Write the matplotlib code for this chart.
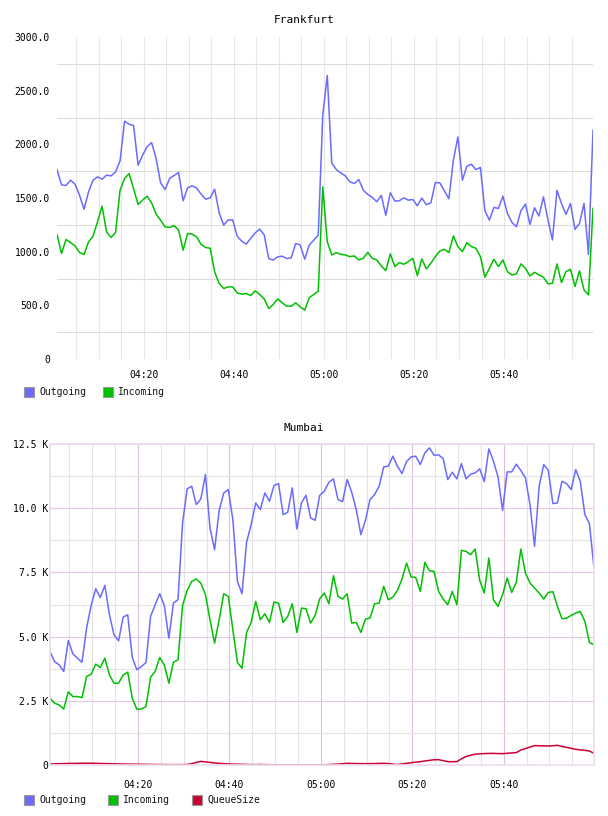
"""Frankfurt / Mumbai traffic charts."""
import matplotlib
matplotlib.use("Agg")
import matplotlib.pyplot as plt
import matplotlib.dates as mdates
import pandas as pd
from matplotlib.patches import Rectangle
from matplotlib.ticker import FuncFormatter, MultipleLocator

W, H = 608, 816

# sample times (one per minute)
times = pd.date_range("2024-01-01 04:00:45", periods=120, freq="60s")

fra_outgoing = [
    1765, 1623, 1616, 1666, 1629, 1526, 1396, 1557, 1666, 1697,
    1675, 1713, 1706, 1744, 1846, 2216, 2188, 2175, 1806, 1899,
    1977, 2017, 1868, 1641, 1579, 1682, 1710, 1738, 1474, 1595,
    1613, 1592, 1536, 1489, 1501, 1582, 1362, 1247, 1296, 1296,
    1144, 1098, 1070, 1123, 1175, 1210, 1157, 936, 921, 952,
    958, 936, 942, 1076, 1061, 930, 1061, 1107, 1154,
    2270, 2642, 1827, 1765, 1734, 1706, 1651, 1635, 1672, 1573,
    1533, 1505, 1465, 1524, 1338, 1548, 1471, 1474, 1502, 1480,
    1486, 1428, 1499, 1437, 1455, 1644, 1641, 1567, 1493, 1852,
    2069, 1666, 1796, 1815, 1765, 1784, 1381, 1294, 1412, 1403,
    1517, 1356, 1273, 1232, 1381, 1443, 1254, 1409, 1332, 1511,
    1294, 1109, 1573, 1449, 1347, 1449, 1208, 1263, 1449, 975, 2131,
]
fra_incoming = [
    1160, 983, 1113, 1085, 1054, 992, 973, 1091, 1144, 1278,
    1424, 1185, 1132, 1178, 1573, 1682, 1728, 1588, 1439, 1480,
    1517, 1455, 1349, 1293, 1231, 1225, 1244, 1200, 1014, 1169,
    1163, 1138, 1067, 1039, 1032, 812, 703, 657, 672, 672,
    616, 604, 610, 591, 635, 601, 560, 470, 507, 560,
    523, 492, 492, 523, 486, 455, 572, 601, 632,
    1604, 1093, 969, 991, 975, 969, 954, 960, 923, 938,
    994, 938, 923, 867, 824, 979, 861, 898, 883, 907,
    938, 777, 932, 839, 892, 954, 1006, 1022, 991, 1146,
    1047, 1000, 1084, 1047, 1031, 954, 762, 845, 929, 861,
    923, 814, 783, 793, 886, 845, 774, 808, 783, 762,
    700, 706, 886, 712, 814, 836, 676, 821, 644, 598, 1403,
]

bom_outgoing = [
    4420, 4030, 3900, 3640, 4849, 4329, 4160, 4004, 5330, 6214,
    6864, 6526, 6994, 5850, 5070, 4836, 5759, 5850, 4186, 3705,
    3835, 3991, 5785, 6240, 6669, 6214, 4940, 6305, 6435, 9425,
    10751, 10855, 10140, 10361, 11310, 9230, 8385, 9906, 10595, 10725,
    9555, 7150, 6669, 8671, 9360, 10205, 9945, 10595, 10270, 10881,
    10959, 9750, 9841, 10790, 9191, 10205, 10504, 9620, 9529, 10504,
    10660, 11011, 11141, 10335, 10257, 11115, 10621, 9945, 8970, 9529,
    10335, 10530, 10855, 11609, 11635, 12025, 11635, 11349, 11817, 11999,
    12025, 11700, 12155, 12350, 12064, 12077, 11934, 11115, 11401, 11141,
    11739, 11141, 11323, 11375, 11531, 11037, 12311, 11830, 11219, 9919,
    11414, 11414, 11713, 11466, 11180, 10140, 8515, 10855, 11700, 11479,
    10179, 10205, 11050, 10959, 10725, 11505, 11050, 9750, 9399, 7670,
]
bom_incoming = [
    2600, 2405, 2340, 2184, 2847, 2665, 2665, 2626, 3445, 3536,
    3926, 3796, 4160, 3510, 3185, 3185, 3510, 3614, 2600, 2171,
    2184, 2275, 3419, 3640, 4186, 3900, 3185, 4004, 4095, 6214,
    6799, 7150, 7241, 7085, 6630, 5655, 4745, 5655, 6669, 6565,
    5265, 3991, 3770, 5161, 5551, 6370, 5655, 5889, 5551, 6344,
    6305, 5551, 5785, 6279, 5161, 6110, 6084, 5525, 5824, 6474,
    6695, 6279, 7371, 6565, 6461, 6669, 5525, 5551, 5161, 5681,
    5720, 6279, 6305, 6955, 6435, 6539, 6799, 7241, 7865, 7319,
    7306, 6760, 7891, 7566, 7540, 6760, 6461, 6240, 6760, 6240,
    8359, 8320, 8190, 8411, 7189, 6695, 8060, 6435, 6175, 6630,
    7280, 6721, 7111, 8411, 7475, 7085, 6890, 6695, 6461, 6721,
    6747, 6175, 5694, 5720, 5824, 5915, 5980, 5590, 4771, 4680,
]
bom_queue = [
    40, 45, 50, 55, 60, 62, 65, 67, 70, 68,
    65, 60, 55, 50, 45, 40, 38, 35, 32, 30,
    28, 25, 22, 20, 18, 15, 15, 15, 15, 15,
    20, 50, 100, 140, 125, 100, 80, 65, 50, 40,
    35, 30, 25, 20, 15, 15, 20, 15, 12, 10,
    8, 5, 5, 5, 5, 5, 5, 5, 5, 8,
    10, 15, 25, 35, 50, 65, 60, 55, 50, 50,
    52, 55, 60, 65, 55, 35, 15, 40, 65, 91,
    110, 130, 156, 180, 205, 208, 170, 130, 130, 130,
    240, 330, 380, 420, 435, 445, 450, 452, 445, 442,
    455, 470, 481, 585, 640, 700, 754, 750, 745, 740,
    750, 767, 720, 689, 650, 610, 590, 570, 545, 455,
]

BLUE = "#6b6bff"
GREEN = "#00c000"
RED = "#cc0033"
FONT = "DejaVu Sans Mono"

plt.rcParams["font.family"] = FONT
plt.rcParams["font.size"] = 7


def px_box(left, top, right, bottom):
    """Pixel box (from top-left) -> figure fraction rect."""
    return [left / W, 1 - bottom / H, (right - left) / W, (bottom - top) / H]


def draw_legend(fig, y, x0, stride, entries):
    for i, (label, color) in enumerate(entries):
        x = x0 + i * stride
        fig.add_artist(Rectangle((x / W, 1 - (y + 5) / H), 10 / W, 10 / H,
                                 transform=fig.transFigure, facecolor=color,
                                 edgecolor="#999999", lw=0.8))
        fig.text((x + 15) / W, 1 - y / H, label, va="center", ha="left",
                 fontsize=7, color="#111111")


def time_axis(ax, major_color, minor_color, pad):
    ax.xaxis.set_major_locator(mdates.MinuteLocator(byminute=[0, 20, 40]))
    ax.xaxis.set_minor_locator(mdates.MinuteLocator(byminute=range(0, 60, 5)))
    ax.xaxis.set_major_formatter(mdates.DateFormatter("%H:%M"))
    ax.grid(True, axis="x", which="major", color=major_color, lw=0.8)
    ax.grid(True, axis="x", which="minor", color=minor_color, lw=0.8)
    ax.tick_params(axis="x", which="both", length=0, pad=pad, labelsize=7)
    ax.set_xlim(times[0], times[-1])


fig = plt.figure(figsize=(W / 100, H / 100), dpi=100)

# --- Frankfurt
ax1 = fig.add_axes(px_box(57, 37, 593, 359))
ax1.plot(times, fra_outgoing, color=BLUE, lw=1.1)
ax1.plot(times, fra_incoming, color=GREEN, lw=1.1)
ax1.set_ylim(0, 3000)
ax1.yaxis.set_major_locator(MultipleLocator(500))
ax1.set_yticks([250 + 500 * i for i in range(6)], minor=True)
ax1.yaxis.set_major_formatter(FuncFormatter(lambda v, p: "0" if v == 0 else f"{v:.1f}"))
ax1.grid(True, axis="y", which="minor", color="#dddddd", lw=0.8)
ax1.tick_params(axis="y", which="both", length=0, pad=5, labelsize=7)
time_axis(ax1, "#e6e6e6", "#e6e6e6", 8)
for s in ax1.spines.values():
    s.set_visible(False)
ax1.set_axisbelow(True)
fig.text(0.5, 1 - 20 / H, "Frankfurt", ha="center", va="center", fontsize=8)
draw_legend(fig, 392, 24, 79, [("Outgoing", BLUE), ("Incoming", GREEN)])

# --- Mumbai
ax2 = fig.add_axes(px_box(50, 444, 594, 765))
ax2.plot(times, bom_outgoing, color=BLUE, lw=1.1)
ax2.plot(times, bom_incoming, color=GREEN, lw=1.1)
ax2.plot(times, bom_queue, color=RED, lw=1.1)
ax2.set_ylim(0, 12500)
ax2.yaxis.set_major_locator(MultipleLocator(2500))
ax2.set_yticks([1250 + 2500 * i for i in range(5)], minor=True)
ax2.yaxis.set_major_formatter(FuncFormatter(lambda v, p: "0" if v == 0 else f"{v / 1000:.1f} K"))
ax2.grid(True, axis="y", which="major", color="#e2c8e2", lw=0.8)
ax2.grid(True, axis="y", which="minor", color="#e4e4e4", lw=0.8)
ax2.tick_params(axis="y", which="both", length=0, pad=1, labelsize=7)
time_axis(ax2, "#dcc0dc", "#e4e4e4", 11)
for s in ax2.spines.values():
    s.set_color("#eedcee")
    s.set_linewidth(1.2)
ax2.set_axisbelow(True)
fig.text(0.5, 1 - 428 / H, "Mumbai", ha="center", va="center", fontsize=8)
draw_legend(fig, 800, 24, 84, [("Outgoing", BLUE), ("Incoming", GREEN), ("QueueSize", RED)])

fig.savefig("out.png", dpi=100)
